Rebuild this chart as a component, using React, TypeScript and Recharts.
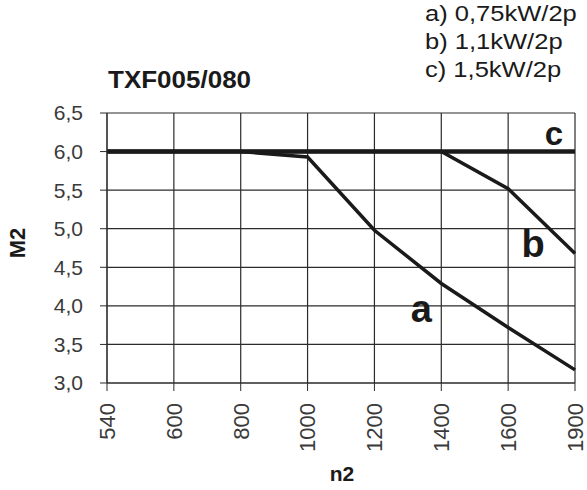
import React from "react";
import { CartesianGrid, LabelList, Line, LineChart, XAxis, YAxis } from "recharts";

// n2 speeds (categorical, evenly spaced on the original sheet)
const speeds = ["540", "600", "800", "1000", "1200", "1400", "1600", "1900"];
// M2 torque curves per motor
const curveA = [6.0, 6.0, 6.0, 5.93, 4.98, 4.29, 3.72, 3.17];
const curveB = [6.0, 6.0, 6.0, 6.0, 6.0, 6.0, 5.52, 4.68];
const curveC = [6.0, 6.0, 6.0, 6.0, 6.0, 6.0, 6.0, 6.0];
const torqueTicks = [3.0, 3.5, 4.0, 4.5, 5.0, 5.5, 6.0, 6.5];
const legendLines = ["a) 0,75kW/2p", "b) 1,1kW/2p", "c) 1,5kW/2p"];

const data = speeds.map((n, i) => ({ n, a: curveA[i], b: curveB[i], c: curveC[i] }));

const FONT = "'Liberation Sans', Arial, Helvetica, sans-serif";
const INK = "#1a1a1a";
const GRID = "#2b2b2b";

const XTick = (props: any) => {
  const { x, y, payload } = props;
  return (
    <text
      x={x}
      y={y}
      transform={`rotate(-90, ${x}, ${y})`}
      textAnchor="end"
      dy="0.36em"
      fill="#3a3a3a"
      fontSize={22}
      fontFamily={FONT}
    >
      {payload.value}
    </text>
  );
};

// curve letter placed next to one chosen point of its series
const curveTag = (letter: string, index: number, dx: number, dy: number, size: number) => (props: any) => {
  if (props.index !== index) return null;
  return (
    <text
      x={props.x + dx}
      y={props.y + dy}
      textAnchor="middle"
      fontSize={size}
      fontWeight="bold"
      fontFamily={FONT}
      fill={INK}
    >
      {letter}
    </text>
  );
};

export default function App() {
  return (
    <div style={{ position: "absolute", left: 0, top: 0, width: 587, height: 490, background: "#fff", fontFamily: FONT }}>
      <LineChart width={587} height={490} data={data} margin={{ top: 113, right: 12, bottom: 47, left: 47 }}>
        <CartesianGrid stroke={GRID} strokeWidth={1.2} />
        <XAxis
          dataKey="n"
          scale="point"
          padding={{ left: 0, right: 0 }}
          height={60}
          interval={0}
          tick={<XTick />}
          tickSize={8}
          tickMargin={12}
          stroke={GRID}
        />
        <YAxis
          type="number"
          domain={[3, 6.5]}
          ticks={torqueTicks}
          width={60}
          tickSize={7}
          tickMargin={17}
          stroke={GRID}
          tick={{ fill: "#3a3a3a", fontSize: 21, fontFamily: FONT }}
          tickFormatter={(v) => Number(v).toFixed(1).replace(".", ",")}
        />
        <Line dataKey="a" stroke={INK} strokeWidth={3.5} dot={false} isAnimationActive={false}>
          <LabelList dataKey="a" content={curveTag("a", 5, -20, 39, 38)} />
        </Line>
        <Line dataKey="b" stroke={INK} strokeWidth={3.5} dot={false} isAnimationActive={false}>
          <LabelList dataKey="b" content={curveTag("b", 7, -42, 4, 38)} />
        </Line>
        <Line dataKey="c" stroke={INK} strokeWidth={4.5} dot={false} isAnimationActive={false}>
          <LabelList dataKey="c" content={curveTag("c", 7, -21, -7, 33)} />
        </Line>
      </LineChart>

      <div
        style={{
          position: "absolute",
          left: 108,
          top: 67,
          fontSize: 23,
          fontWeight: "bold",
          color: INK,
          transform: "scaleX(1.13)",
          transformOrigin: "left top",
          whiteSpace: "nowrap",
        }}
      >
        TXF005/080
      </div>
      <div
        style={{
          position: "absolute",
          left: 425,
          top: 0,
          fontSize: 22,
          lineHeight: "28px",
          color: INK,
          transform: "scaleX(1.16)",
          transformOrigin: "left top",
          whiteSpace: "nowrap",
        }}
      >
        {legendLines.map((l) => (
          <div key={l}>{l}</div>
        ))}
      </div>
      <div
        style={{
          position: "absolute",
          left: 18,
          top: 243,
          transform: "translate(-50%, -50%) rotate(-90deg)",
          fontSize: 22,
          fontWeight: "bold",
          color: INK,
        }}
      >
        M2
      </div>
      <div style={{ position: "absolute", left: 342, top: 462, transform: "translateX(-50%)", fontSize: 21, fontWeight: "bold", color: INK }}>
        n2
      </div>
    </div>
  );
}
